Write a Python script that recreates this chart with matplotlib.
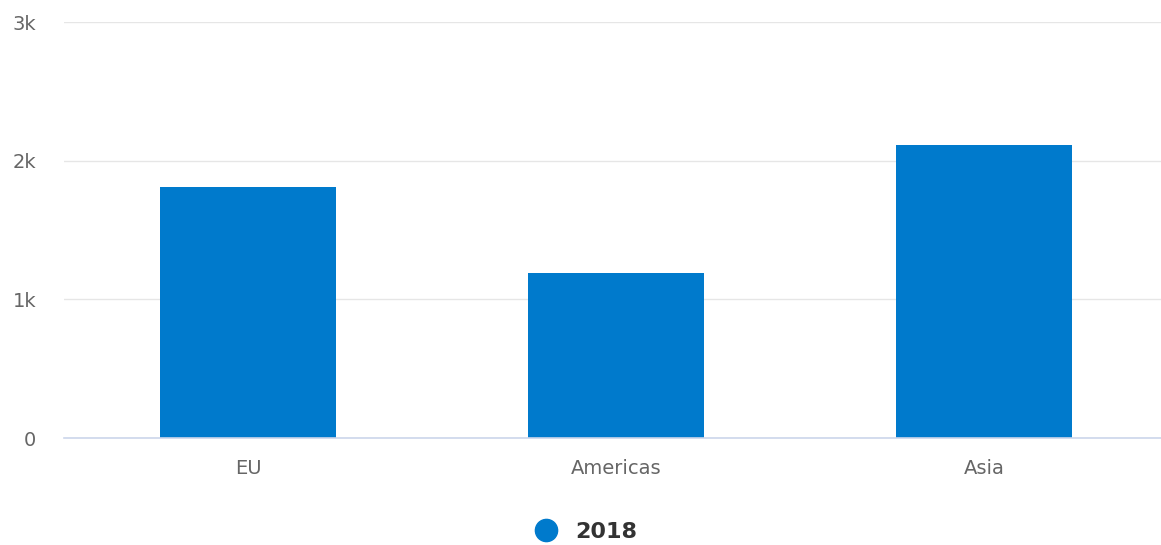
import matplotlib.pyplot as plt
from matplotlib.lines import Line2D

# Données
categories = ["EU", "Americas", "Asia"]
valeurs_2018 = [1810, 1190, 2115]
ticks_y = [0, 1000, 2000, 3000]
labels_y = ["0", "1k", "2k", "3k"]

plt.rcParams['font.family'] = ['DejaVu Sans']

fig = plt.figure(figsize=(11.61, 5.45), dpi=100)
ax = fig.add_axes([64 / 1161, 1 - 438 / 545, 1104 / 1161, 416 / 545])

bleu = "#007acc"
ax.bar(range(len(categories)), valeurs_2018, width=0.478, color=bleu, zorder=3)

ax.set_xlim(-0.5, len(categories) - 0.5)
ax.set_ylim(0, 3000)
ax.set_yticks(ticks_y)
ax.set_yticklabels(labels_y)
ax.set_xticks(range(len(categories)))
ax.set_xticklabels(categories)

# Grille horizontale
ax.grid(axis="y", color="#e6e6e6", linewidth=1, zorder=0)
for s in ["top", "right", "left"]:
    ax.spines[s].set_visible(False)
ax.spines["bottom"].set_color("#ccd6eb")
ax.spines["bottom"].set_linewidth(1.2)
ax.spines["bottom"].set_zorder(4)

ax.tick_params(axis="y", length=0, pad=20, labelsize=14, labelcolor="#666666")
ax.tick_params(axis="x", length=0, pad=15, labelsize=14, labelcolor="#666666")

# Légende
poignee = Line2D([], [], marker="o", color="none", markerfacecolor=bleu,
                 markeredgecolor=bleu, markersize=16)
fig.legend([poignee], ["2018"], loc="center", bbox_to_anchor=(0.5, 1 - 532 / 545),
           frameon=False, handletextpad=0.3, prop={"weight": "bold", "size": 16},
           labelcolor="#333333")

plt.savefig("out.png", dpi=100)
